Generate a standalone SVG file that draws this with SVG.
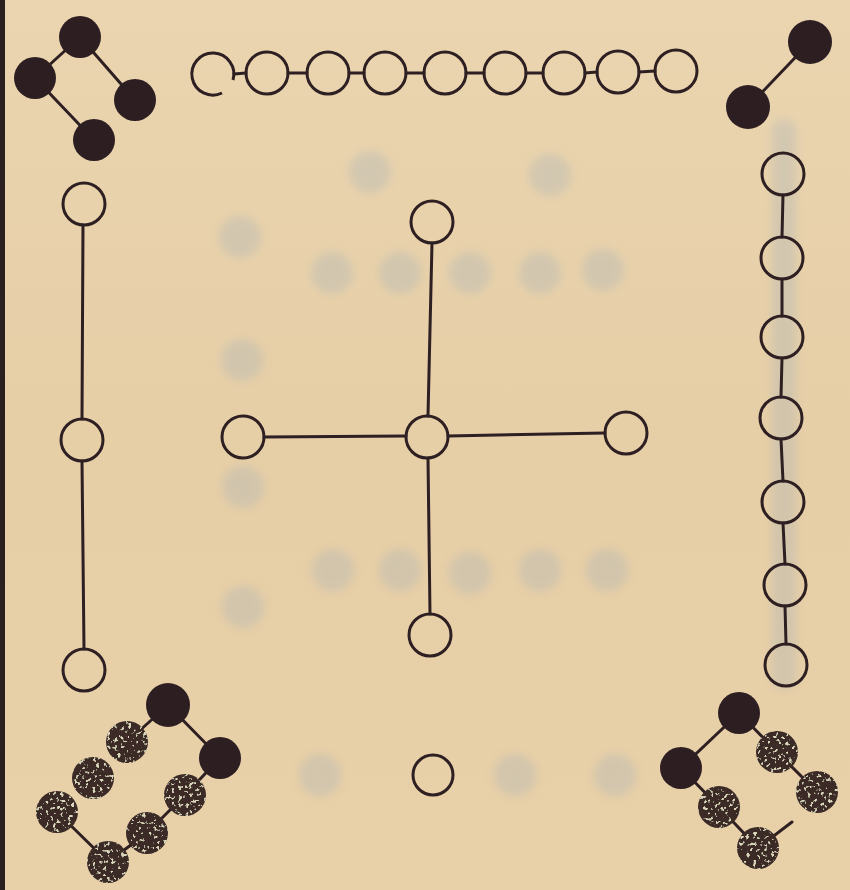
<svg xmlns="http://www.w3.org/2000/svg" width="850" height="890" viewBox="0 0 850 890">
<style>
.open{fill:none;stroke:#2e1f22;stroke-width:3}
.dark{fill:#2d1e22}
.spk{fill:#3a2a28;filter:url(#speck)}
.edge{stroke:#2e1f22;stroke-width:3;fill:none;stroke-linecap:round}
.ghost{fill:#aab3b8;opacity:0.34;filter:url(#blur)}
</style>
<defs>
<linearGradient id="bg" x1="0" y1="0" x2="0" y2="1">
<stop offset="0" stop-color="#ead5b0"/>
<stop offset="0.5" stop-color="#e6cea6"/>
<stop offset="1" stop-color="#e8d0a8"/>
</linearGradient>
<filter id="blur" x="-50%" y="-50%" width="200%" height="200%"><feGaussianBlur stdDeviation="4"/></filter>
<filter id="speck" x="0" y="0" width="100%" height="100%">
<feTurbulence type="fractalNoise" baseFrequency="0.28" numOctaves="2" seed="5" result="n"/>
<feColorMatrix in="n" type="matrix" values="0 0 0 0 0.70  0 0 0 0 0.68  0 0 0 0 0.50  0 0 0 10 -6.0" result="s"/>
<feComposite in="s" in2="SourceGraphic" operator="in" result="s2"/>
<feMerge><feMergeNode in="SourceGraphic"/><feMergeNode in="s2"/></feMerge>
</filter>
</defs>
<rect width="850" height="890" fill="url(#bg)"/>
<rect x="0" y="0" width="5" height="890" fill="#2b2020"/>
<g id="bleed-through">
<circle class="ghost" cx="370" cy="172" r="21"/>
<circle class="ghost" cx="550" cy="175" r="21"/>
<circle class="ghost" cx="240" cy="237" r="21"/>
<circle class="ghost" cx="332" cy="273" r="21"/>
<circle class="ghost" cx="400" cy="273" r="21"/>
<circle class="ghost" cx="470" cy="273" r="21"/>
<circle class="ghost" cx="540" cy="273" r="21"/>
<circle class="ghost" cx="603" cy="270" r="21"/>
<circle class="ghost" cx="242" cy="360" r="21"/>
<circle class="ghost" cx="243" cy="487" r="21"/>
<circle class="ghost" cx="333" cy="570" r="21"/>
<circle class="ghost" cx="400" cy="570" r="21"/>
<circle class="ghost" cx="470" cy="573" r="21"/>
<circle class="ghost" cx="540" cy="570" r="21"/>
<circle class="ghost" cx="607" cy="570" r="21"/>
<circle class="ghost" cx="243" cy="607" r="21"/>
<circle class="ghost" cx="320" cy="775" r="21"/>
<circle class="ghost" cx="515" cy="775" r="21"/>
<circle class="ghost" cx="615" cy="775" r="21"/>
<rect class="ghost" x="772" y="120" width="24" height="570" rx="10"/>
</g>
<g id="connectors">
<line class="edge" x1="80" y1="37" x2="35" y2="78"/>
<line class="edge" x1="80" y1="37" x2="135" y2="100"/>
<line class="edge" x1="35" y1="78" x2="94" y2="140"/>
<line class="edge" x1="810" y1="42" x2="748" y2="107"/>
<line class="edge" x1="234" y1="74" x2="246" y2="73"/>
<line class="edge" x1="288" y1="73" x2="307" y2="73"/>
<line class="edge" x1="349" y1="73" x2="364" y2="73"/>
<line class="edge" x1="406" y1="73" x2="424" y2="73"/>
<line class="edge" x1="466" y1="73" x2="484" y2="73"/>
<line class="edge" x1="526" y1="73" x2="543" y2="73"/>
<line class="edge" x1="585" y1="73" x2="597" y2="72"/>
<line class="edge" x1="639" y1="72" x2="655" y2="71"/>
<line class="edge" x1="83" y1="225" x2="82" y2="419"/>
<line class="edge" x1="82" y1="461" x2="84" y2="649"/>
<line class="edge" x1="432" y1="243" x2="428" y2="416"/>
<line class="edge" x1="264" y1="437" x2="406" y2="436"/>
<line class="edge" x1="448" y1="436" x2="605" y2="433"/>
<line class="edge" x1="428" y1="458" x2="430" y2="614"/>
<line class="edge" x1="783" y1="195" x2="782" y2="237"/>
<line class="edge" x1="782" y1="279" x2="782" y2="316"/>
<line class="edge" x1="782" y1="358" x2="781" y2="397"/>
<line class="edge" x1="781" y1="439" x2="783" y2="481"/>
<line class="edge" x1="783" y1="523" x2="785" y2="564"/>
<line class="edge" x1="785" y1="606" x2="786" y2="644"/>
<line class="edge" x1="168" y1="705" x2="127" y2="742"/>
<line class="edge" x1="168" y1="705" x2="220" y2="758"/>
<line class="edge" x1="220" y1="758" x2="185" y2="795"/>
<line class="edge" x1="185" y1="795" x2="147" y2="833"/>
<line class="edge" x1="147" y1="833" x2="108" y2="862"/>
<line class="edge" x1="57" y1="812" x2="108" y2="862"/>
<line class="edge" x1="739" y1="713" x2="681" y2="768"/>
<line class="edge" x1="739" y1="713" x2="777" y2="752"/>
<line class="edge" x1="777" y1="752" x2="817" y2="792"/>
<line class="edge" x1="681" y1="768" x2="719" y2="807"/>
<line class="edge" x1="719" y1="807" x2="758" y2="848"/>
<line class="edge" x1="758" y1="848" x2="792" y2="822"/>
</g>
<g id="top-left-group">
<circle class="dark" cx="80" cy="37" r="21"/>
<circle class="dark" cx="35" cy="78" r="21"/>
<circle class="dark" cx="135" cy="100" r="21"/>
<circle class="dark" cx="94" cy="140" r="21"/>
</g>
<g id="top-right-group">
<circle class="dark" cx="810" cy="42" r="22"/>
<circle class="dark" cx="748" cy="107" r="22"/>
</g>
<g id="top-chain">
<path class="open" d="M233,80 A21,21 0 1 0 222,93"/>
<circle class="open" cx="267" cy="73" r="21"/>
<circle class="open" cx="328" cy="73" r="21"/>
<circle class="open" cx="385" cy="73" r="21"/>
<circle class="open" cx="445" cy="73" r="21"/>
<circle class="open" cx="505" cy="73" r="21"/>
<circle class="open" cx="564" cy="73" r="21"/>
<circle class="open" cx="618" cy="72" r="21"/>
<circle class="open" cx="676" cy="71" r="21"/>
</g>
<g id="left-column">
<circle class="open" cx="84" cy="204" r="21"/>
<circle class="open" cx="82" cy="440" r="21"/>
<circle class="open" cx="84" cy="670" r="21"/>
</g>
<g id="cross">
<circle class="open" cx="432" cy="222" r="21"/>
<circle class="open" cx="427" cy="437" r="21"/>
<circle class="open" cx="243" cy="437" r="21"/>
<circle class="open" cx="626" cy="433" r="21"/>
<circle class="open" cx="430" cy="635" r="21"/>
</g>
<g id="right-column">
<circle class="open" cx="783" cy="174" r="21"/>
<circle class="open" cx="782" cy="258" r="21"/>
<circle class="open" cx="782" cy="337" r="21"/>
<circle class="open" cx="781" cy="418" r="21"/>
<circle class="open" cx="783" cy="502" r="21"/>
<circle class="open" cx="785" cy="585" r="21"/>
<circle class="open" cx="786" cy="665" r="21"/>
</g>
<g id="bottom-center">
<circle class="open" cx="433" cy="775" r="20"/>
</g>
<g id="bottom-left-group">
<circle class="dark" cx="168" cy="705" r="22"/>
<circle class="dark" cx="220" cy="758" r="21"/>
<circle class="spk" cx="127" cy="742" r="21"/>
<circle class="spk" cx="93" cy="778" r="21"/>
<circle class="spk" cx="185" cy="795" r="21"/>
<circle class="spk" cx="57" cy="812" r="21"/>
<circle class="spk" cx="147" cy="833" r="21"/>
<circle class="spk" cx="108" cy="862" r="21"/>
</g>
<g id="bottom-right-group">
<circle class="dark" cx="739" cy="713" r="21"/>
<circle class="dark" cx="681" cy="768" r="21"/>
<circle class="spk" cx="777" cy="752" r="21"/>
<circle class="spk" cx="817" cy="792" r="21"/>
<circle class="spk" cx="719" cy="807" r="21"/>
<circle class="spk" cx="758" cy="848" r="21"/>
</g>
</svg>
